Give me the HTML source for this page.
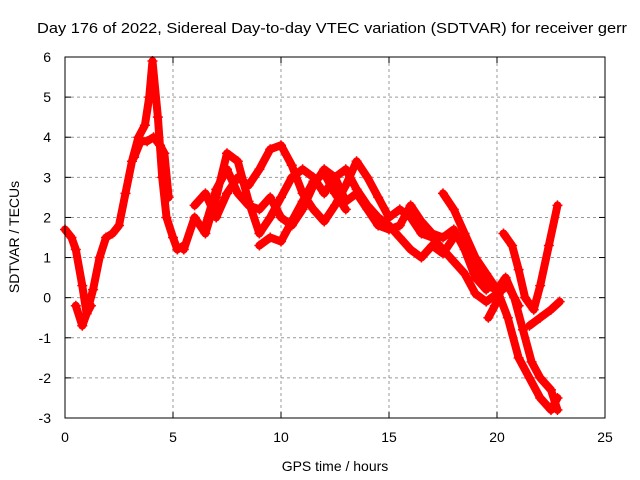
<!DOCTYPE html>
<html><head><meta charset="utf-8"><style>
body{margin:0;background:#fff}
svg{display:block;font-family:"Liberation Sans",sans-serif}
</style></head><body>
<svg id="c" width="640" height="480" viewBox="0 0 640 480">
<text x="37" y="33" font-size="14.5" textLength="590" lengthAdjust="spacingAndGlyphs" fill="#000">Day 176 of 2022, Sidereal Day-to-day VTEC variation (SDTVAR) for receiver gerr</text>
<g id="grid"></g><g id="ticks"></g><g id="series"></g>
<rect x="65" y="57" width="540" height="361" fill="none" stroke="#000" stroke-width="1"/>
<text x="335" y="471" font-size="14" text-anchor="middle">GPS time / hours</text>
<text transform="translate(19,237) rotate(-90)" font-size="14" text-anchor="middle">SDTVAR / TECUs</text>
</svg>
<script>
const xTicks=[0,5,10,15,20,25];
const yTicks=[-3,-2,-1,0,1,2,3,4,5,6];
const tA=[0,0.3,0.5,0.8,1.0,1.3,1.6,1.9,2.2,2.5,2.8,3.1,3.4,3.7,3.9,4.05,4.3,4.5,4.7,5.0,5.2,5.5];
const vA=[1.7,1.5,1.2,0.3,-0.4,0.2,1.0,1.5,1.6,1.8,2.6,3.4,4.0,4.3,5.0,5.9,4.5,3.0,2.0,1.5,1.2,1.3];
const tA2=[3.2,3.5,3.8,4.1,4.4,4.6,4.8];
const vA2=[3.5,3.9,3.9,4.0,3.8,3.6,2.5];
const tB=[0.5,0.8,1.0,1.2];
const vB=[-0.2,-0.7,-0.4,-0.2];
const t1=[5.5,6,6.5,7,7.5,8,8.5,9,9.5,10,10.5,11,11.5,12,12.5,13,13.5,14,14.5,15,15.5,16,16.5,17,17.5,18];
const v1=[1.2,2.0,1.6,2.5,3.6,3.4,2.4,1.6,2.0,2.5,3.0,3.2,3.0,2.6,3.0,3.2,2.7,2.3,2.0,1.8,1.5,1.2,1.0,1.3,1.1,1.5];
const t2=[6,6.5,7,7.5,8,8.5,9,9.5,10,10.5,11,11.5,12,12.5,13,13.5,14,14.5,15,15.5,16,16.5,17,17.5,18,18.5,19,19.5,20,20.5,21];
const v2=[2.3,2.6,2.0,2.6,3.0,2.8,3.2,3.7,3.8,3.3,2.6,2.2,1.9,2.3,2.8,3.4,3.0,2.5,2.0,2.2,2.0,1.6,1.5,1.2,0.9,0.6,0.1,-0.1,0.1,0.3,-0.2];
const t3=[6.5,7,7.5,8,8.5,9,9.5,10,10.5,11,11.5,12,12.5,13,13.5,14,14.5,15,15.5,16,16.5,17,17.5,18,18.5,19,19.5];
const v3=[1.8,2.7,3.2,2.6,2.3,2.2,2.5,2.0,1.8,2.2,2.8,3.2,3.0,2.4,2.6,2.2,1.8,1.7,1.8,2.3,1.9,1.6,1.5,1.7,1.2,0.5,0.2];
const t4=[9,9.5,10,10.5,11,11.5,12,12.5,13];
const v4=[1.3,1.5,1.4,1.9,2.4,2.9,3.1,2.6,2.2];
const t5=[17.5,18,18.5,19,19.5,20,20.5,21,21.5,22,22.5,22.8];
const v5=[2.6,2.2,1.6,1.0,0.6,0.2,-0.5,-1.5,-2.0,-2.5,-2.8,-2.5];
const t6=[18.5,19,19.5,20,20.4,20.8,21.2,21.6,22,22.5,22.8];
const v6=[1.4,0.8,0.3,0.2,0.5,0.0,-0.8,-1.6,-2.0,-2.3,-2.8];
const t7=[20.3,20.7,21,21.3,21.7,22,22.4,22.8];
const v7=[1.6,1.3,0.7,0.0,-0.3,0.3,1.3,2.3];
const t8=[21.5,22,22.5,22.9];
const v8=[-0.7,-0.5,-0.3,-0.1];
const t9=[19.6,19.9,20.2];
const v9=[-0.5,-0.2,0.2];
const seriesT=[tA,tA2,tB,t1,t2,t3,t4,t5,t6,t7,t8,t9];
const seriesV=[vA,vA2,vB,v1,v2,v3,v4,v5,v6,v7,v8,v9];
const NS="http://www.w3.org/2000/svg";
const X=t=>65+t*540/25, Y=v=>418-(v+3)*361/9;
const grid=document.getElementById('grid'),ticks=document.getElementById('ticks'),ser=document.getElementById('series');
function mk(tag,attrs,parent){const e=document.createElementNS(NS,tag);for(const k in attrs)e.setAttribute(k,attrs[k]);parent.appendChild(e);return e;}
xTicks.forEach(t=>{
  if(t>0&&t<25){const l=mk('line',{x1:X(t),x2:X(t),y1:57,y2:418,stroke:'#999','stroke-dasharray':'3,3'},grid);
  
  }
  mk('line',{x1:X(t),x2:X(t),y1:418,y2:412,stroke:'#000'},ticks);
  mk('line',{x1:X(t),x2:X(t),y1:57,y2:63,stroke:'#000'},ticks);
  const tx=mk('text',{x:X(t),y:442,'font-size':14,'text-anchor':'middle'},ticks);tx.textContent=t;
  
  
});
yTicks.forEach(v=>{
  if(v>-3&&v<6){const l=mk('line',{x1:65,x2:605,y1:Y(v),y2:Y(v),stroke:'#999','stroke-dasharray':'3,3'},grid);
  
  }
  mk('line',{x1:65,x2:71,y1:Y(v),y2:Y(v),stroke:'#000'},ticks);
  mk('line',{x1:605,x2:599,y1:Y(v),y2:Y(v),stroke:'#000'},ticks);
  const tx=mk('text',{x:51,y:Y(v)+5,'font-size':14,'text-anchor':'end'},ticks);tx.textContent=v;
  
  
});
seriesT.forEach((ts,i)=>{
  const vs=seriesV[i];
  const pts=ts.map((t,j)=>X(t)+','+Y(vs[j])).join(' ');
  const pl=mk('polyline',{points:pts,fill:'none',stroke:'#ff0000','stroke-width':8,'stroke-linejoin':'round','stroke-linecap':'round'},ser);
  
  
  ts.forEach((t,j)=>{
    const p=mk('path',{d:`M${X(t)-5},${Y(vs[j])}h10M${X(t)},${Y(vs[j])-5}v10`,stroke:'#ff0000','stroke-width':1.5},ser);
    
    
  });
});
</script>
</body></html>
